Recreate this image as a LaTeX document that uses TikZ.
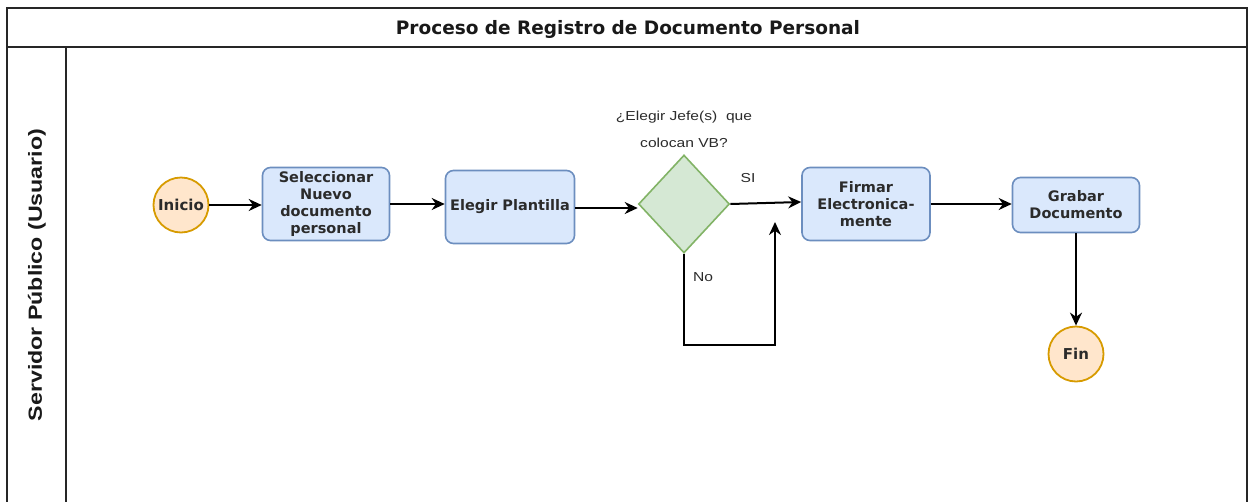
\documentclass[tikz,border=0pt]{standalone}
\usepackage{fontspec}
\setmainfont{DejaVu Sans}
\newfontfamily\arialfont{Liberation Sans}
\usetikzlibrary{shapes.geometric,arrows.meta}
\definecolor{boxfill}{HTML}{DAE8FC}
\definecolor{boxline}{HTML}{6C8EBF}
\definecolor{evfill}{HTML}{FFE6CC}
\definecolor{evline}{HTML}{D79B00}
\definecolor{decfill}{HTML}{D5E8D4}
\definecolor{decline}{HTML}{82B366}
\definecolor{txt}{HTML}{2B2B2B}
\newcommand{\wide}[1]{\scalebox{1.2}[1]{#1}}
\tikzset{
  stepbox/.style={draw=boxline, fill=boxfill, line width=1.6pt, rounded corners=8pt,
    align=center, font=\fontsize{14.5}{17}\selectfont\bfseries, text=txt, inner sep=2pt},
  event/.style={circle, draw=evline, fill=evfill, line width=1.8pt, minimum size=55pt,
    inner sep=0pt, font=\fontsize{15}{17}\selectfont\bfseries, text=txt},
  decision/.style={diamond, draw=decline, fill=decfill, line width=1.6pt, minimum width=91pt,
    minimum height=98pt, inner sep=0pt, aspect=0.93},
  conn/.style={line width=2pt, -{Stealth[length=13pt,width=12pt]}},
  lbl/.style={font=\arialfont\fontsize{13}{15}\selectfont, text=txt},
  frame/.style={line width=1.6pt, draw=black!85}
}
\begin{document}
\begin{tikzpicture}[x=1pt,y=-1pt]
\useasboundingbox (0,0) rectangle (1251,501);
\fill[white] (0,0) rectangle (1251,501);
% frame
\draw[frame] (7,503) -- (7,8) -- (1247,8) -- (1247,503);
\draw[frame] (7,47) -- (1247,47);
\draw[frame] (66,47) -- (66,503);
\node[font=\fontsize{18.5}{20}\selectfont\bfseries, text=black!90] (title) at (628,29) {Proceso de Registro de Documento Personal};
\node[rotate=90, font=\arialfont\fontsize{19}{21}\selectfont\bfseries, text=black!90] (lane) at (37,275) {\scalebox{1.22}[1]{Servidor Público (Usuario)}};
% nodes
\node[event] (inicio) at (181,205) {Inicio};
\node[stepbox, minimum width=127pt, minimum height=73pt] (sel) at (326,204) {Seleccionar\\Nuevo\\documento\\personal};
\node[stepbox, minimum width=129pt, minimum height=73pt] (plan) at (510,207) {Elegir Plantilla};
\node[decision] (dec) at (684,204) {};
\node[lbl] (q1) at (684,117) {\wide{¿Elegir Jefe(s)\ \ que}};
\node[lbl] (q2) at (684,143) {\wide{colocan VB?}};
\node[stepbox, minimum width=128pt, minimum height=73pt] (firm) at (866,204) {Firmar\\Electronica-\\mente};
\node[stepbox, minimum width=127pt, minimum height=55pt] (grab) at (1076,205) {Grabar\\Documento};
\node[event] (fin) at (1076,354) {Fin};
\node[lbl] (si) at (748,178) {\wide{SI}};
\node[lbl] (no) at (703,277) {\wide{No}};
\coordinate (nend) at (775,222);
% connectors
\draw[conn] (inicio.east) -- (sel.west |- inicio.east);
\draw[conn] (sel.east) -- (plan.west |- sel.east);
\draw[conn] (plan.east |- 0,208) -- (dec.west |- 0,208);
\draw[conn] (dec.east) -- (firm.west |- 0,202);
\draw[conn] (dec.south) -- (684,345) -- (775,345) -- (nend);
\draw[conn] (firm.east) -- (grab.west |- firm.east);
\draw[conn] (grab.south) -- (fin.north);
\end{tikzpicture}
\end{document}
